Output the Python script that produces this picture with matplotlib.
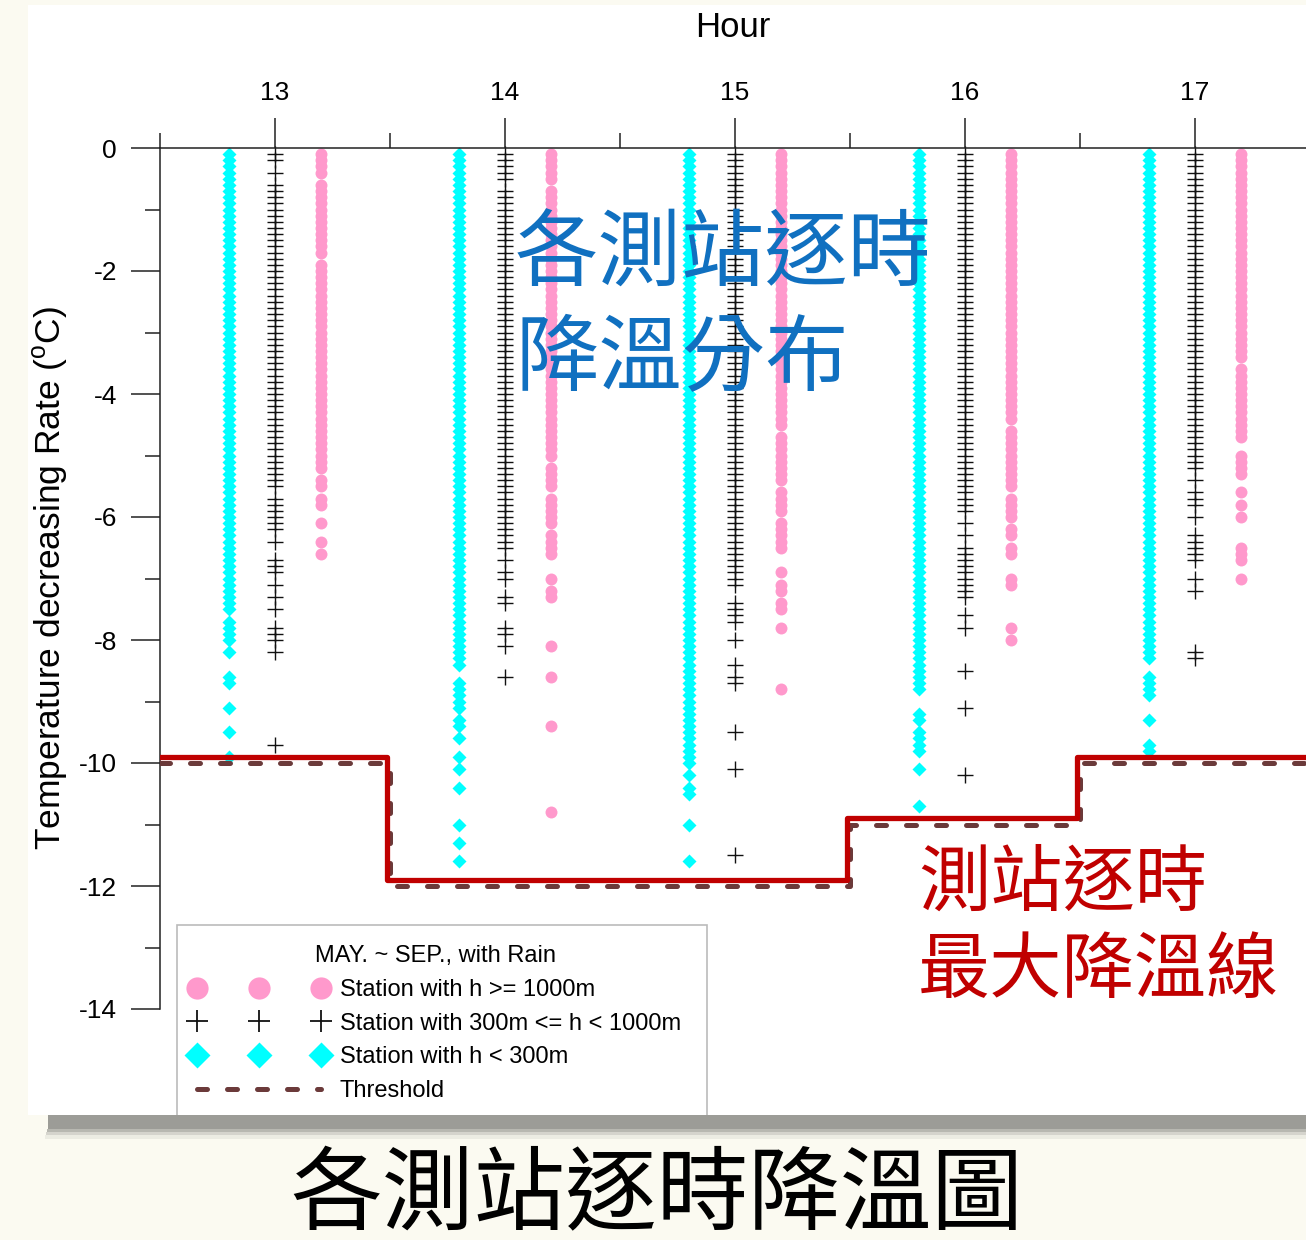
import numpy as np
import matplotlib
matplotlib.use("Agg")
import matplotlib.pyplot as plt
from matplotlib.lines import Line2D
from matplotlib.patches import Rectangle

plt.rcParams["font.family"] = ["Liberation Sans", "DejaVu Sans"]
plt.rcParams["axes.unicode_minus"] = False
plt.rcParams["mathtext.fontset"] = "custom"
plt.rcParams["mathtext.rm"] = "Liberation Sans"

# hours on the top axis
hours = [13, 14, 15, 16, 17]

# temperature decreasing rate of every station, in 0.1 degC
# stations with h < 300m
cyan_13 = [
    -1, -2, -3, -4, -5, -6, -7, -8, -9, -10, -11, -12, -13, -14, -15, -16, -17, -18, -19, -20,
    -21, -22, -23, -24, -25, -26, -27, -28, -29, -30, -31, -32, -33, -34, -35, -36, -37, -38, -39, -40,
    -41, -42, -43, -44, -45, -46, -47, -48, -49, -50, -51, -52, -53, -54, -55, -56, -57, -58, -59, -60,
    -61, -62, -63, -64, -65, -66, -67, -68, -69, -70, -71, -72, -73, -74, -75,
    -77, -78, -79, -80, -82, -86, -87, -91, -95, -99,
]
cyan_14 = [
    -1, -2, -3, -4, -5, -6, -7, -8, -9, -10, -11, -12, -13, -14, -15, -16, -17, -18, -19, -20,
    -21, -22, -23, -24, -25, -26, -27, -28, -29, -30, -31, -32, -33, -34, -35, -36, -37, -38, -39, -40,
    -41, -42, -43, -44, -45, -46, -47, -48, -49, -50, -51, -52, -53, -54, -55, -56, -57, -58, -59, -60,
    -61, -62, -63, -64, -65, -66, -67, -68, -69, -70, -71, -72, -73, -74, -75, -76, -77, -78, -79, -80,
    -81, -82, -83, -84,
    -87, -88, -89, -90, -91, -93, -94, -96, -99, -101, -104, -110, -113, -116,
]
cyan_15 = [
    -1, -2, -3, -4, -5, -6, -7, -8, -9, -10, -11, -12, -13, -14, -15, -16, -17, -18, -19, -20,
    -21, -22, -23, -24, -25, -26, -27, -28, -29, -30, -31, -32, -33, -34, -35, -36, -37, -38, -39, -40,
    -41, -42, -43, -44, -45, -46, -47, -48, -49, -50, -51, -52, -53, -54, -55, -56, -57, -58, -59, -60,
    -61, -62, -63, -64, -65, -66, -67, -68, -69, -70, -71, -72, -73, -74, -75, -76, -77, -78, -79, -80,
    -81, -82, -83, -84, -85, -86, -87, -88, -89, -90, -91, -92, -93, -94, -95, -96, -97, -98, -99, -100,
    -102, -104, -105, -110, -116,
]
cyan_16 = [
    -1, -2, -3, -4, -5, -6, -7, -8, -9, -10, -11, -12, -13, -14, -15, -16, -17, -18, -19, -20,
    -21, -22, -23, -24, -25, -26, -27, -28, -29, -30, -31, -32, -33, -34, -35, -36, -37, -38, -39, -40,
    -41, -42, -43, -44, -45, -46, -47, -48, -49, -50, -51, -52, -53, -54, -55, -56, -57, -58, -59, -60,
    -61, -62, -63, -64, -65, -66, -67, -68, -69, -70, -71, -72, -73, -74, -75, -76, -77, -78, -79, -80,
    -81, -82, -83, -84, -85, -86, -87, -88,
    -92, -93, -95, -96, -97, -98, -101, -107,
]
cyan_17 = [
    -1, -2, -3, -4, -5, -6, -7, -8, -9, -10, -11, -12, -13, -14, -15, -16, -17, -18, -19, -20,
    -21, -22, -23, -24, -25, -26, -27, -28, -29, -30, -31, -32, -33, -34, -35, -36, -37, -38, -39, -40,
    -41, -42, -43, -44, -45, -46, -47, -48, -49, -50, -51, -52, -53, -54, -55, -56, -57, -58, -59, -60,
    -61, -62, -63, -64, -65, -66, -67, -68, -69, -70, -71, -72, -73, -74, -75, -76, -77, -78, -79, -80,
    -81, -82, -83,
    -86, -87, -88, -89, -93, -97, -98,
]

# stations with 300m <= h < 1000m
black_13 = [
    -1, -2, -4, -6, -7, -8, -9, -10, -11, -12, -13, -14, -15, -16, -17, -18, -19, -20,
    -21, -22, -23, -24, -25, -26, -27, -28, -29, -30, -31, -32, -33, -34, -35, -36, -37, -38, -39, -40,
    -41, -42, -43, -44, -45, -46, -47, -48, -49, -50, -51, -52, -53, -54, -55,
    -57, -58, -59, -60, -61, -62, -64, -67, -68, -69, -71, -73, -75, -78, -79, -80, -82, -97,
]
black_14 = [
    -1, -2, -3, -4, -5, -7, -8, -9, -10, -11, -12, -13, -14, -15, -16, -17, -18, -19, -20,
    -21, -22, -23, -24, -25, -26, -27, -28, -29, -30, -31, -32, -33, -34, -35, -36, -37, -38, -39, -40,
    -41, -42, -43, -44, -45, -46, -47, -48, -49, -50, -51, -52, -53, -54, -55, -56, -57, -58, -59, -60,
    -61, -62, -63, -64, -65,
    -67, -69, -70, -73, -74, -78, -79, -81, -86,
]
black_15 = [
    -1, -2, -3, -4, -5, -6, -7, -8, -9, -10, -11, -12, -13, -14, -15, -16, -17, -18, -19, -20,
    -21, -22, -23, -24, -25, -26, -27, -28, -29, -30, -31, -32, -33, -34, -35, -36, -37, -38, -39, -40,
    -41, -42, -43, -44, -45, -46, -47, -48, -49, -50, -51, -52, -53, -54, -55, -56, -57, -58, -59, -60,
    -61, -62, -63, -64, -65, -66, -67, -68, -69, -70, -71,
    -74, -75, -76, -77, -80, -84, -86, -87, -95, -101, -115,
]
black_16 = [
    -1, -2, -3, -4, -5, -6, -7, -8, -9, -10, -11, -12, -13, -14, -15, -16, -17, -18, -19, -20,
    -21, -22, -23, -24, -25, -26, -27, -28, -29, -30, -31, -32, -33, -34, -35, -36, -37, -38, -39, -40,
    -41, -42, -43, -44, -45, -46, -47, -48, -49, -50, -51, -52, -53, -54, -55, -56, -57, -58, -59,
    -61, -63, -65, -66, -67, -68, -69, -70, -71, -72, -73, -76, -78, -85, -91, -102,
]
black_17 = [
    -1, -2, -3, -4, -5, -6, -7, -8, -9, -10, -11, -12, -13, -14, -15, -16, -17, -18, -19, -20,
    -21, -22, -23, -24, -25, -26, -27, -28, -29, -30, -31, -32, -33, -34, -35, -36, -37, -38, -39, -40,
    -41, -42, -43, -44, -45, -46, -47, -48, -49, -50, -51, -52,
    -54, -56, -57, -58, -60, -63, -64, -65, -66, -67, -70, -72, -82, -83,
]

# stations with h >= 1000m
pink_13 = [
    -1, -2, -3, -4, -6, -7, -8, -9, -10, -11, -12, -13, -14, -15, -16, -17,
    -19, -20, -21, -22, -23, -24, -25, -26, -27, -28, -29, -30, -31, -32, -33, -34, -35, -36, -37, -38,
    -39, -40, -41, -42, -43, -44, -45, -46, -47, -48, -49, -50, -51, -52,
    -54, -55, -57, -58, -61, -64, -66,
]
pink_14 = [
    -1, -2, -3, -4, -5, -7, -8, -9, -10, -11, -12, -13, -14, -15, -16, -17, -18, -19, -20,
    -21, -22, -23, -24, -25, -26, -27, -28, -29, -30, -31, -32, -33, -34, -35, -36, -37, -38, -39, -40,
    -41, -42, -43, -44, -45, -46, -47, -48, -49, -50,
    -52, -53, -54, -55, -57, -58, -59, -60, -61, -63, -64, -65, -66,
    -70, -72, -73, -81, -86, -94, -108,
]
pink_15 = [
    -1, -2, -3, -4, -5, -6, -7, -8, -9, -10, -11, -12, -13, -14, -15, -16, -17, -18, -19, -20,
    -21, -22, -23, -24, -25, -26, -27, -28, -29, -30, -31, -32, -33, -34, -35, -36, -37, -38, -39, -40,
    -41, -42, -43, -44, -45, -47, -48, -49, -50, -51, -52, -53, -54, -56, -57, -58, -59,
    -61, -62, -63, -64, -65, -69, -71, -72, -74, -75, -78, -88,
]
pink_16 = [
    -1, -2, -3, -4, -5, -6, -7, -8, -9, -10, -11, -12, -13, -14, -15, -16, -17, -18, -19, -20,
    -21, -22, -23, -24, -25, -26, -27, -28, -29, -30, -31, -32, -33, -34, -35, -36, -37, -38, -39, -40,
    -41, -42, -43, -44, -46, -47, -48, -49, -50, -51, -52, -53, -54, -55,
    -57, -58, -59, -60, -62, -63, -65, -66, -70, -71, -78, -80,
]
pink_17 = [
    -1, -2, -3, -4, -5, -6, -7, -8, -9, -10, -11, -12, -13, -14, -15, -16, -17, -18, -19, -20,
    -21, -22, -23, -24, -25, -26, -27, -28, -29, -30, -31, -32, -33, -34,
    -36, -37, -38, -39, -40, -41, -42, -43, -44, -45, -46, -47,
    -50, -51, -52, -53, -56, -58, -60, -65, -66, -67, -70,
]

# hourly maximum decrease of all stations and the threshold (degC)
max_drop = [-9.9, -11.9, -11.9, -10.9, -9.9]
threshold = [-10, -12, -12, -11, -10]

legend_title = "MAY. ~ SEP., with Rain"
legend_labels = [
    "Station with h >= 1000m",
    "Station with 300m <= h < 1000m",
    "Station with h < 300m",
    "Threshold",
]

PINK = "#FF99CC"
CYAN = "#00FFFF"
RED = "#C00000"
BROWN = "#6B3A3A"
BLUE = "#1070C0"

W, H = 1306, 1240


def fx(px):
    return px / W


def fy(py):
    return 1 - py / H


fig = plt.figure(figsize=(W / 100, H / 100), dpi=100)
fig.patch.set_facecolor("#FBFAF1")

# white panel and its soft shadow
fig.add_artist(Rectangle((fx(28), fy(1115)), fx(W - 28), 1110 / H,
                         transform=fig.transFigure, facecolor="white",
                         edgecolor="none", zorder=-2))
for top, bot, left, a in [(1115, 1129, 48, 1.0), (1129, 1132, 47, 0.7),
                          (1132, 1135, 46, 0.4), (1135, 1139, 45, 0.15)]:
    fig.add_artist(Rectangle((fx(left), fy(bot)), fx(W - left), (bot - top) / H,
                             transform=fig.transFigure, facecolor="#9C9C97",
                             edgecolor="none", alpha=a, zorder=6))

ax = fig.add_axes([fx(160), fy(1009), fx(W - 160), (1009 - 148) / H])
ax.set_facecolor("none")

pink_cols = [pink_13, pink_14, pink_15, pink_16, pink_17]
black_cols = [black_13, black_14, black_15, black_16, black_17]
cyan_cols = [cyan_13, cyan_14, cyan_15, cyan_16, cyan_17]

for h, vals in zip(hours, cyan_cols):
    v = np.array(vals) / 10
    ax.plot(np.full(len(v), h - 0.2), v, ls="none", marker="D", ms=7.0,
            mfc=CYAN, mec="none", clip_on=False, zorder=2)
for h, vals in zip(hours, black_cols):
    v = np.array(vals) / 10
    ax.plot(np.full(len(v), h), v, ls="none", marker="+", ms=11.5,
            mew=1.0, color="#111111", clip_on=False, zorder=2)
for h, vals in zip(hours, pink_cols):
    v = np.array(vals) / 10
    ax.plot(np.full(len(v), h + 0.2), v, ls="none", marker="o", ms=8.6,
            mfc=PINK, mec="none", clip_on=False, zorder=2)

# step lines, one hour wide around each hour
edges = [h - 0.5 for h in hours] + [hours[-1] + 0.5]
ax.step(edges, threshold + [threshold[-1]], where="post", color=BROWN,
        lw=3.6, dashes=(2, 4), dash_capstyle="round", zorder=3)
ax.step([e - 0.015 for e in edges], max_drop + [max_drop[-1]], where="post",
        color=RED, lw=3.8, zorder=4)

ax.set_xlim(12.5, 12.5 + (W - 160) / 230)
ax.set_ylim(-14, 0)

ax.spines["bottom"].set_visible(False)
ax.spines["right"].set_visible(False)
for s in ["top", "left"]:
    ax.spines[s].set_linewidth(1.1)
    ax.spines[s].set_color("#222222")

ax.xaxis.tick_top()
ax.set_xticks(hours)
ax.set_xticks([h - 0.5 for h in hours], minor=True)
ax.set_yticks(np.arange(0, -15, -2))
ax.set_yticks(np.arange(-1, -14, -2), minor=True)
ax.tick_params(axis="x", which="major", direction="out", length=21.6,
               width=1.1, pad=9.5, labelsize=19, colors="#222222")
ax.tick_params(axis="x", which="minor", direction="out", length=10.8,
               width=1.1, colors="#222222")
ax.tick_params(axis="y", which="major", direction="out", length=21,
               width=1.1, pad=10, labelsize=19, colors="#222222")
ax.tick_params(axis="y", which="minor", direction="out", length=10.8,
               width=1.1, colors="#222222")
for lab in ax.get_xticklabels() + ax.get_yticklabels():
    lab.set_color("black")

ax.xaxis.set_label_position("top")
ax.set_xlabel("Hour", fontsize=25)
ax.xaxis.set_label_coords(0.5, 1 + (148 - 37) / 861)
ax.xaxis.label.set_va("baseline")
ax.set_ylabel(r"Temperature decreasing Rate ($^{\mathrm{o}}$C)", fontsize=25.5)
ax.yaxis.set_label_coords((50 - 160) / (W - 160), 0.5)
ax.yaxis.label.set_va("center")

# legend box drawn by hand so its size matches, entries on top of it
fig.add_artist(Rectangle((fx(177), fy(1122)), fx(707 - 177), (1122 - 925) / H,
                         transform=fig.transFigure, facecolor="white",
                         edgecolor="#BBBBBB", lw=1.2, zorder=4.5))
handles = [
    Line2D([], [], ls="none", marker="o", ms=16, mfc=PINK, mec="none"),
    Line2D([], [], ls="none", marker="+", ms=16, mew=1.3, color="#111111"),
    Line2D([], [], ls="none", marker="D", ms=13, mfc=CYAN, mec="none"),
    Line2D([], [], color=BROWN, lw=3.6, dashes=(2, 4), dash_capstyle="round"),
]
leg = fig.legend(handles, legend_labels, loc="upper left",
                 bbox_to_anchor=(fx(177), fy(932)), borderaxespad=0,
                 numpoints=3, handlelength=5.85, handletextpad=0.5,
                 labelspacing=0.5, borderpad=0.55, fontsize=17,
                 title=legend_title, title_fontsize=17, frameon=False)
leg.set_zorder(5)

cjk = ["Noto Sans CJK TC", "DejaVu Sans"]
fig.text(fx(515), fy(255), "各測站逐時", family=cjk, fontsize=60,
         color=BLUE, ha="left", va="center", zorder=7)
fig.text(fx(515), fy(360), "降溫分布", family=cjk, fontsize=60,
         color=BLUE, ha="left", va="center", zorder=7)
fig.text(fx(918), fy(884), "測站逐時", family=cjk, fontsize=52,
         color=RED, ha="left", va="center", zorder=7)
fig.text(fx(918), fy(971), "最大降溫線", family=cjk, fontsize=52,
         color=RED, ha="left", va="center", zorder=7)
fig.text(fx(657), fy(1197), "各測站逐時降溫圖", family=cjk, fontsize=66,
         color="black", ha="center", va="center", zorder=7)

fig.savefig("out.png", dpi=100, facecolor=fig.get_facecolor())
